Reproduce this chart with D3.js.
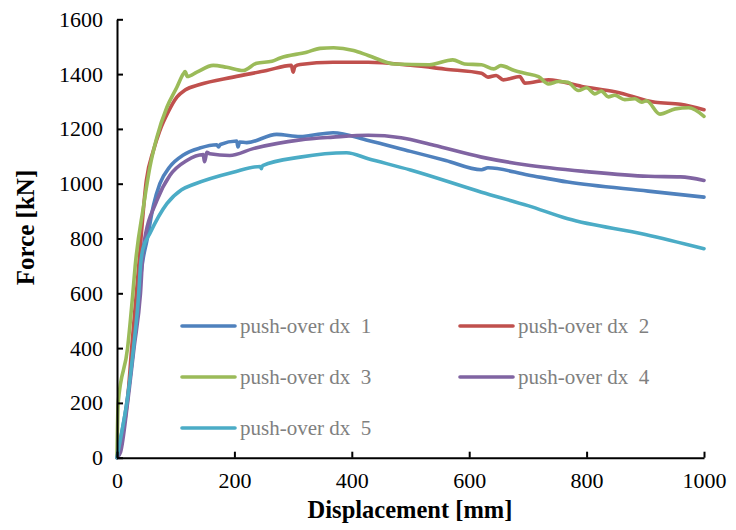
<!DOCTYPE html>
<html>
<head>
<meta charset="utf-8">
<script src="https://cdn.jsdelivr.net/npm/d3@7"></script>
<style>
  html, body { margin: 0; padding: 0; background: #fff; }
  svg { display: block; }
  text { font-family: "Liberation Serif", "Times New Roman", serif; }
</style>
</head>
<body>
<svg id="chart" width="736" height="530"></svg>
<script>
// ---- data (displacement [mm], force [kN]) ----
const seriesNames = ["push-over dx  1", "push-over dx  2", "push-over dx  3", "push-over dx  4", "push-over dx  5"];
const seriesColors = ["#4f81bd", "#c0504d", "#9bbb59", "#8064a2", "#4bacc6"];
const xTicks = [0, 200, 400, 600, 800, 1000];
const yTicks = [0, 200, 400, 600, 800, 1000, 1200, 1400, 1600];

const dx1 = [[0,0],[5,55],[17,205],[28,400],[37,600],[44,720],[51,793],[62,920],[73,1000],[90,1062],[113,1105],[141,1130],[170,1142],[173,1134],[176,1143],[204,1156],[206,1134],[209,1152],[221,1150],[272,1180],[312,1172],[329,1176],[368,1186],[428,1158],[500,1118],[560,1085],[621,1051],[632,1058],[700,1032],[768,1006],[905,973],[1000,951]];
const dx2 = [[0,0],[6,60],[18,210],[25,400],[33,600],[37,700],[50,1012],[62,1121],[73,1194],[87,1261],[102,1316],[116,1342],[141,1362],[198,1389],[255,1413],[297,1432],[300,1407],[303,1428],[312,1435],[368,1443],[428,1443],[500,1432],[560,1418],[621,1403],[632,1389],[646,1395],[658,1379],[686,1391],[695,1367],[735,1379],[792,1355],[850,1335],[917,1297],[960,1290],[1000,1270]];
const dx3 = [[0,0],[2,200],[18,400],[27,600],[31,700],[45,915],[56,1060],[68,1170],[85,1279],[102,1352],[113,1401],[116,1409],[120,1391],[136,1407],[164,1432],[187,1425],[215,1413],[238,1440],[264,1447],[278,1459],[323,1480],[346,1494],[369,1496],[403,1486],[428,1468],[473,1437],[532,1434],[572,1452],[592,1437],[621,1434],[642,1419],[654,1431],[677,1413],[695,1403],[718,1391],[735,1364],[752,1373],[768,1370],[786,1340],[800,1350],[814,1328],[825,1338],[837,1317],[848,1323],[865,1307],[882,1310],[894,1297],[902,1303],[925,1254],[951,1273],[974,1277],[1000,1246]];
const dx4 = [[0,0],[6,20],[18,200],[29,400],[40,600],[45,769],[68,939],[90,1030],[119,1085],[147,1106],[149,1080],[151,1095],[153,1115],[158,1109],[192,1103],[232,1128],[312,1160],[368,1170],[428,1177],[484,1168],[540,1140],[621,1097],[695,1069],[800,1044],[905,1027],[960,1025],[1000,1012]];
const dx5 = [[0,0],[5,58],[17,204],[28,399],[37,600],[40,700],[44,760],[56,818],[85,927],[110,978],[130,997],[198,1042],[244,1063],[246,1055],[248,1066],[312,1097],[391,1113],[428,1091],[500,1050],[621,969],[700,920],[768,872],[900,815],[1000,763]];
const seriesData = [dx1, dx2, dx3, dx4, dx5];

// ---- layout ----
const FONT = '"Liberation Serif", "Times New Roman", serif';
const svg = d3.select("#chart");
const x = d3.scaleLinear().domain([0, 1000]).range([117, 704]);
const y = d3.scaleLinear().domain([0, 1600]).range([457.7, 19.3]);

// series lines
const line = d3.line().x(d => x(d[0])).y(d => y(d[1])).curve(d3.curveMonotoneX);
svg.append("g").selectAll("path")
  .data(seriesData)
  .join("path")
  .attr("d", d => line(d))
  .attr("fill", "none")
  .attr("stroke", (d, i) => seriesColors[i])
  .attr("stroke-width", 3.6)
  .attr("stroke-linejoin", "round")
  .attr("stroke-linecap", "round");

// axes
const fmt = d3.format("d");
const yAxis = d3.axisLeft(y).tickValues(yTicks).tickFormat(fmt).tickSizeInner(-6).tickSizeOuter(0).tickPadding(14);
const xAxis = d3.axisBottom(x).tickValues(xTicks).tickFormat(fmt).tickSizeInner(-6).tickSizeOuter(0).tickPadding(15);

const gy = svg.append("g").attr("transform", `translate(${x(0)},0)`).call(yAxis);
const gx = svg.append("g").attr("transform", `translate(0,${y(0)})`).call(xAxis);
[gx, gy].forEach(g => {
  g.attr("font-family", FONT).attr("font-size", 22);
  g.select(".domain").attr("stroke", "#000").attr("stroke-width", 2);
  g.selectAll(".tick line").attr("stroke", "#000").attr("stroke-width", 2);
  g.selectAll(".tick text").attr("fill", "#000")
    .attr("font-family", FONT)
    .style("font-family", FONT)
    .style("font-size", "22px");
});

// axis titles
svg.append("text")
  .attr("x", 410).attr("y", 518)
  .attr("text-anchor", "middle")
  .style("font-size", "24.5px").style("font-weight", "bold")
  .text("Displacement [mm]");
svg.append("text")
  .attr("transform", "translate(34,227.5) rotate(-90)")
  .attr("text-anchor", "middle")
  .style("font-size", "25px").style("font-weight", "bold")
  .text("Force [kN]");

// legend
const legendPos = [[182, 326], [460, 326], [182, 377], [460, 377], [182, 428]];
const lg = svg.append("g").selectAll("g")
  .data(seriesNames)
  .join("g")
  .attr("transform", (d, i) => `translate(${legendPos[i][0]},${legendPos[i][1]})`);
lg.append("line")
  .attr("x1", 0).attr("x2", 53).attr("y1", 0).attr("y2", 0)
  .attr("stroke", (d, i) => seriesColors[i])
  .attr("stroke-width", 3.6)
  .attr("stroke-linecap", "round");
lg.append("text")
  .attr("x", 58).attr("y", 0).attr("dy", "0.34em")
  .attr("fill", "#808080")
  .style("font-size", "21px")
  .style("white-space", "pre")
  .text(d => d);
</script>
</body>
</html>
